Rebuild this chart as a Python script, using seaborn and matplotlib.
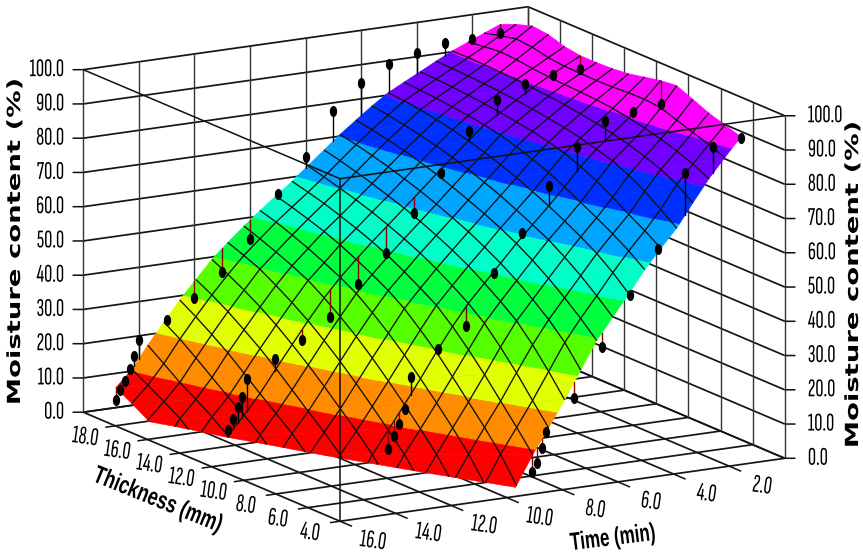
import numpy as np
import seaborn as sns
import matplotlib
matplotlib.use('Agg')
import matplotlib.pyplot as plt
from matplotlib.markers import MarkerStyle
from matplotlib.patheffects import AbstractPathEffect
from matplotlib.transforms import Affine2D
from mpl_toolkits.mplot3d import proj3d
from mpl_toolkits.mplot3d.art3d import Poly3DCollection, Line3DCollection

# Axis ranges and tick labels
thickness_ticks = [4, 6, 8, 10, 12, 14, 16, 18, 20]
time_ticks = [0, 2, 4, 6, 8, 10, 12, 14, 16]
moisture_ticks = [0, 10, 20, 30, 40, 50, 60, 70, 80, 90, 100]

# Colour bands of the surface
band_levels = [0, 10, 20, 30, 40, 50, 60, 70, 80, 90, 101]
band_colors = ['#ff0000', '#ff8c00', '#e1ff00', '#55ff00', '#00ff3c',
               '#00ffc8', '#00a5ff', '#0030ff', '#7000ff', '#ff00ff']

# Fitted surface: rows are time, columns thickness.
# Values under 0 lie below the floor and get cut off at the floor line
surface_thickness = [5, 6, 7, 8, 9, 10, 11, 12, 13, 14, 15, 16, 17, 18, 19, 20]
surface_time = [1.00, 1.58, 2.15, 2.73, 3.31, 3.88, 4.46, 5.03, 5.61, 6.19, 6.76, 7.34, 7.92,
                8.49, 9.07, 9.64, 10.22, 10.80, 11.37, 11.95, 12.53, 13.10, 13.68, 14.25, 14.83]
surface_moisture = [
    [93.0, 94.5, 96.0, 98.0, 100.0, 99.5, 98.5, 97.5, 97.0, 96.8, 96.8, 97.5, 99.0, 99.5, 98.0, 96.0],
    [87.6, 89.5, 91.0, 92.6, 94.2, 94.7, 94.6, 94.3, 94.2, 94.3, 94.4, 94.9, 96.0, 96.4, 95.4, 94.1],
    [82.1, 84.4, 86.2, 87.7, 88.9, 89.9, 90.7, 91.2, 91.5, 91.7, 92.0, 92.4, 93.0, 93.3, 92.8, 92.2],
    [75.7, 79.1, 81.5, 83.3, 84.8, 86.0, 87.0, 87.8, 88.5, 89.0, 89.4, 89.8, 90.0, 90.2, 90.3, 90.2],
    [69.0, 72.5, 75.8, 78.5, 80.7, 82.1, 83.4, 84.4, 85.2, 85.9, 86.5, 86.9, 87.3, 87.6, 87.8, 87.9],
    [63.8, 66.9, 69.7, 72.7, 75.4, 77.7, 79.6, 80.9, 82.0, 82.8, 83.5, 84.1, 84.6, 85.0, 85.3, 85.5],
    [58.2, 61.7, 64.7, 67.4, 69.9, 72.4, 74.7, 76.5, 78.2, 79.6, 80.6, 81.3, 81.9, 82.4, 82.8, 83.1],
    [51.8, 56.0, 59.6, 62.5, 65.1, 67.5, 69.7, 71.8, 73.6, 75.2, 76.6, 77.8, 78.8, 79.7, 80.3, 80.7],
    [45.7, 49.9, 53.8, 57.2, 60.3, 62.7, 65.0, 67.2, 69.1, 70.9, 72.4, 73.8, 74.9, 75.9, 76.8, 77.5],
    [39.5, 44.0, 48.0, 51.7, 55.0, 57.9, 60.4, 62.6, 64.6, 66.5, 68.2, 69.7, 71.1, 72.2, 73.2, 74.0],
    [31.5, 37.6, 42.3, 46.2, 49.7, 52.8, 55.5, 58.0, 60.1, 62.1, 63.9, 65.5, 67.0, 68.3, 69.5, 70.5],
    [23.5, 29.8, 35.6, 40.6, 44.3, 47.6, 50.7, 53.3, 55.6, 57.7, 59.6, 61.2, 62.8, 64.2, 65.5, 66.6],
    [16.0, 22.0, 28.1, 33.6, 38.6, 42.4, 45.6, 48.5, 51.1, 53.3, 55.3, 57.1, 58.7, 60.1, 61.4, 62.7],
    [8.8, 14.8, 20.5, 26.2, 31.5, 36.3, 40.5, 43.5, 46.3, 48.9, 51.1, 53.0, 54.7, 56.3, 57.6, 58.8],
    [0.5, 7.6, 13.5, 18.9, 24.3, 29.5, 34.0, 38.2, 41.5, 44.2, 46.6, 48.9, 50.8, 52.4, 53.9, 55.2],
    [-7.6, -0.4, 6.3, 12.0, 17.3, 22.4, 27.3, 31.7, 35.7, 39.3, 42.0, 44.3, 46.5, 48.4, 50.2, 51.6],
    [-15.7, -8.4, -1.4, 4.9, 10.4, 15.5, 20.4, 25.1, 29.4, 33.2, 36.7, 39.8, 42.1, 44.1, 46.0, 47.7],
    [-23.7, -16.5, -9.4, -2.5, 3.6, 8.7, 13.6, 18.3, 22.8, 26.9, 30.7, 34.0, 37.0, 39.8, 41.8, 43.6],
    [-31.8, -24.6, -17.5, -10.6, -3.9, 2.2, 7.1, 11.6, 16.1, 20.4, 24.4, 28.1, 31.4, 34.3, 36.9, 39.3],
    [-39.9, -32.6, -25.6, -18.7, -11.9, -5.4, 0.8, 5.4, 9.5, 13.8, 18.0, 21.9, 25.4, 28.7, 31.6, 34.1],
    [-48.0, -40.7, -33.6, -26.7, -20.0, -13.4, -7.1, -0.9, 3.7, 7.6, 11.4, 15.4, 19.3, 22.7, 25.9, 28.8],
    [-56.0, -48.8, -41.7, -34.8, -28.1, -21.5, -15.1, -8.9, -2.9, 2.0, 5.8, 9.1, 12.8, 16.5, 20.0, 23.0],
    [-64.1, -56.8, -49.8, -42.9, -36.1, -29.6, -23.2, -17.0, -11.0, -5.1, 0.4, 3.9, 7.1, 10.0, 13.5, 16.9],
    [-72.2, -64.9, -57.8, -50.9, -44.2, -37.7, -31.3, -25.1, -19.0, -13.2, -7.5, -2.0, 2.1, 5.1, 7.9, 10.5],
    [-80.2, -73.0, -65.9, -59.0, -52.3, -45.7, -39.3, -33.1, -27.1, -21.3, -15.6, -10.1, -4.7, 0.3, 3.2, 5.8],
]

# Measured points for the four slab thicknesses
time_5mm = [1, 2, 3, 4, 5, 6, 7, 8, 8.16, 8.33, 8.5]
moisture_5mm = [92.8, 91.3, 84.8, 63.8, 51.3, 37.3, 23.6, 14.8, 10.3, 6.1, 3.7]
time_10mm = [1, 2, 3, 4, 5, 6, 7, 8, 9, 10, 10.2, 10.4, 10.6, 10.8]
moisture_10mm = [92.7, 91.5, 90.1, 83.4, 73.4, 60.8, 50.1, 36.0, 30.2, 23.2, 14.1, 9.9, 6.7, 3.1]
time_15mm = [1, 2, 3, 4, 5, 6, 7, 8, 9, 10, 11, 12, 13, 13.17, 13.33, 13.5, 13.67]
moisture_15mm = [93.0, 92.4, 90.9, 87.4, 79.5, 68.4, 57.9, 47.1, 39.2, 30.8, 25.2, 20.8, 16.1, 11.1, 8.3, 5.0, 2.0]
time_20mm = [1, 2, 3, 4, 5, 6, 7, 8, 9, 10, 11, 12, 13, 14, 14.17, 14.33, 14.5, 14.67, 14.83]
moisture_20mm = [93.5, 93.0, 92.9, 91.2, 89.1, 84.7, 77.7, 65.2, 55.8, 43.8, 35.1, 28.7, 23.4, 18.7, 14.2, 10.6, 7.3, 4.9, 2.2]


class Stretch(AbstractPathEffect):
    # The original lettering is squeezed or widened, no installed font has that shape
    def __init__(self, factor, pivot='center'):
        super().__init__()
        self.factor = factor
        self.pivot = pivot

    def draw_path(self, renderer, gc, tpath, affine, rgbFace=None):
        box = tpath.get_extents()
        px = {'left': box.x0, 'center': (box.x0 + box.x1) / 2, 'right': box.x1}[self.pivot]
        scale = Affine2D().translate(-px, 0).scale(self.factor, 1).translate(px, 0)
        renderer.draw_path(gc, tpath, scale + affine, rgbFace)


def clip_polygon(points, level, keep_above):
    # Cut a 3D polygon with the plane moisture = level
    result = []
    for k in range(len(points)):
        p, q = points[k], points[(k + 1) % len(points)]
        p_in = p[2] >= level if keep_above else p[2] <= level
        q_in = q[2] >= level if keep_above else q[2] <= level
        if p_in:
            result.append(p)
        if p_in != q_in:
            f = (level - p[2]) / (q[2] - p[2])
            result.append(tuple(p[m] + f * (q[m] - p[m]) for m in range(3)))
    return result


def floor_segment(p, q):
    # Part of a mesh line that stays above the floor
    if p[2] < 0 and q[2] < 0:
        return None
    if p[2] < 0 or q[2] < 0:
        f = -p[2] / (q[2] - p[2])
        cross = tuple(p[m] + f * (q[m] - p[m]) for m in range(3))
        return [cross, q] if p[2] < 0 else [p, cross]
    return [p, q]


sns.set_theme(style='white')
palette = sns.color_palette(band_colors)
narrow_font = ['Sofia Sans Extra Condensed', 'Liberation Sans']

fig = plt.figure(figsize=(8.63, 5.57), dpi=100)
ax = fig.add_axes([-79.5 / 863, -220.5 / 557, 1000 / 863, 1000 / 557], projection='3d', proj_type='ortho')
ax.computed_zorder = False
ax.view_init(elev=14.19, azim=150)
ax.set_box_aspect((1, 1, 0.688), zoom=0.78403)
ax.set_xlim(thickness_ticks[0], thickness_ticks[-1], view_margin=0)
ax.set_ylim(time_ticks[0], time_ticks[-1], view_margin=0)
ax.set_zlim(moisture_ticks[0], moisture_ticks[-1], view_margin=0)
ax.set_axis_off()

th_lo, th_hi = thickness_ticks[0], thickness_ticks[-1]
t_lo, t_hi = time_ticks[0], time_ticks[-1]
z_hi = moisture_ticks[-1]

# Back walls and floor
wall_lines = []
for z in moisture_ticks:
    wall_lines.append([(th_hi, t_lo, z), (th_hi, t_hi, z)])
    wall_lines.append([(th_lo, t_lo, z), (th_hi, t_lo, z)])
for th in thickness_ticks:
    wall_lines.append([(th, t_lo, 0), (th, t_hi, 0)])
for t in time_ticks:
    wall_lines.append([(th_lo, t, 0), (th_hi, t, 0)])
ax.add_collection3d(Line3DCollection(wall_lines, colors='#151515', linewidths=1.25, zorder=1), autolim=False)
wall_verticals = []
for th in thickness_ticks:
    wall_verticals.append([(th, t_lo, 0), (th, t_lo, z_hi)])
for t in time_ticks:
    wall_verticals.append([(th_hi, t, 0), (th_hi, t, z_hi)])
ax.add_collection3d(Line3DCollection(wall_verticals, colors='#333333', linewidths=1.0, zorder=1), autolim=False)

# Surface, each cell cut into its colour bands
th_nodes = np.array(surface_thickness, dtype=float)
t_nodes = np.array(surface_time)
z_nodes = np.array(surface_moisture)
polys = []
face_colors = []
for i in range(len(t_nodes) - 1):
    for j in range(len(th_nodes) - 1):
        a = (th_nodes[j], t_nodes[i], z_nodes[i, j])
        b = (th_nodes[j + 1], t_nodes[i], z_nodes[i, j + 1])
        c = (th_nodes[j + 1], t_nodes[i + 1], z_nodes[i + 1, j + 1])
        d = (th_nodes[j], t_nodes[i + 1], z_nodes[i + 1, j])
        for tri in ([a, b, c], [a, c, d]):
            for k, color in enumerate(palette):
                part = clip_polygon(tri, band_levels[k], True)
                if len(part) > 2:
                    part = clip_polygon(part, band_levels[k + 1], False)
                if len(part) > 2:
                    polys.append(part)
                    face_colors.append(color)
ax.add_collection3d(Poly3DCollection(polys, facecolors=face_colors, edgecolors=face_colors,
                                     linewidths=0.4, zorder=3), autolim=False)

# Mesh lines, the outer border of the surface has none
mesh = []
for i in range(1, len(t_nodes) - 1):
    for j in range(len(th_nodes) - 1):
        seg = floor_segment((th_nodes[j], t_nodes[i], z_nodes[i, j]),
                            (th_nodes[j + 1], t_nodes[i], z_nodes[i, j + 1]))
        if seg:
            mesh.append(seg)
for j in range(1, len(th_nodes) - 1):
    for i in range(len(t_nodes) - 1):
        seg = floor_segment((th_nodes[j], t_nodes[i], z_nodes[i, j]),
                            (th_nodes[j], t_nodes[i + 1], z_nodes[i + 1, j]))
        if seg:
            mesh.append(seg)
ax.add_collection3d(Line3DCollection(mesh, colors='#101010', linewidths=0.95, zorder=4), autolim=False)

# Box edges in front of the surface and the tick marks
front_lines = [[(th_lo, t_hi, 0), (th_lo, t_hi, z_hi)],
               [(th_hi, t_hi, z_hi), (th_lo, t_hi, z_hi)],
               [(th_lo, t_hi, z_hi), (th_lo, t_lo, z_hi)]]
for th in thickness_ticks[:-1]:
    front_lines.append([(th, t_hi, 0), (th, t_hi + 0.36, 0)])
for t in time_ticks[1:]:
    front_lines.append([(th_lo, t, 0), (th_lo - 0.75, t, 0)])
for z in moisture_ticks:
    front_lines.append([(th_hi, t_hi, z), (th_hi + 0.167, t_hi + 0.289, z)])
    front_lines.append([(th_lo, t_lo, z), (th_lo - 0.167, t_lo - 0.289, z)])
ax.add_collection3d(Line3DCollection(front_lines, colors='#101010', linewidths=1.1, zorder=5), autolim=False)

# Measured points with their stems to the surface
dot = MarkerStyle('o', transform=Affine2D().scale(0.66, 1))
series = [(5, time_5mm, moisture_5mm), (10, time_10mm, moisture_10mm),
          (15, time_15mm, moisture_15mm), (20, time_20mm, moisture_20mm)]
for th, times, moistures in series:
    column = z_nodes[:, surface_thickness.index(th)]
    fitted = np.maximum(np.interp(times, t_nodes, column), 0)
    for t, z, f in zip(times, moistures, fitted):
        ax.plot([th, th], [t, t], [z, f], color='black' if z > f else '#8b0000', lw=1.0, zorder=6)
    ax.plot([th] * len(times), times, moistures, ls='none', marker=dot, ms=8,
            color='black', mew=0, zorder=7)


def to_2d(th, t, z):
    x, y, _ = proj3d.proj_transform(th, t, z, ax.get_proj())
    return x, y


# Tick labels
tick_font = dict(family=narrow_font, fontweight='bold', fontsize=18.5, color='black',
                 textcoords='offset pixels', annotation_clip=False)
for z in moisture_ticks:
    ax.annotate(f'{z:.1f}', to_2d(th_hi, t_hi, z), xytext=(-19, 0), ha='right', va='center',
                path_effects=[Stretch(0.88, 'right')], **tick_font)
    ax.annotate(f'{z:.1f}', to_2d(th_lo, t_lo, z), xytext=(23, 0), ha='left', va='center',
                path_effects=[Stretch(0.88, 'left')], **tick_font)
for th in thickness_ticks[:-1]:
    ax.annotate(f'{th:.1f}', to_2d(th, t_hi, 0), xytext=(-30, -11.5), ha='center', va='center',
                rotation=-8, path_effects=[Stretch(0.88)], **tick_font)
for t in time_ticks[1:]:
    ax.annotate(f'{t:.1f}', to_2d(th_lo, t, 0), xytext=(33, -20), ha='center', va='center',
                rotation=-8, path_effects=[Stretch(0.88)], **tick_font)

# Axis titles
fig.text(15 / 863, 1 - 242 / 557, 'Moisture content (%)', family='DejaVu Sans', fontweight='bold',
         fontsize=13, rotation=90, ha='center', va='center', color='black',
         path_effects=[Stretch(1.52)])
fig.text(853 / 863, 1 - 285 / 557, 'Moisture content (%)', family='DejaVu Sans', fontweight='bold',
         fontsize=13, rotation=90, ha='center', va='center', color='black',
         path_effects=[Stretch(1.52)])
fig.text(158 / 863, 1 - 500 / 557, 'Thickness (mm)', family='Liberation Sans', fontweight='bold',
         fontsize=18, rotation=-22, ha='center', va='center', rotation_mode='anchor', color='black',
         path_effects=[Stretch(0.72)])
fig.text(613 / 863, 1 - 538 / 557, 'Time (min)', family='Liberation Sans', fontweight='bold',
         fontsize=18, rotation=7, ha='center', va='center', rotation_mode='anchor', color='black',
         path_effects=[Stretch(0.68)])

plt.savefig('out.png', dpi=100)
